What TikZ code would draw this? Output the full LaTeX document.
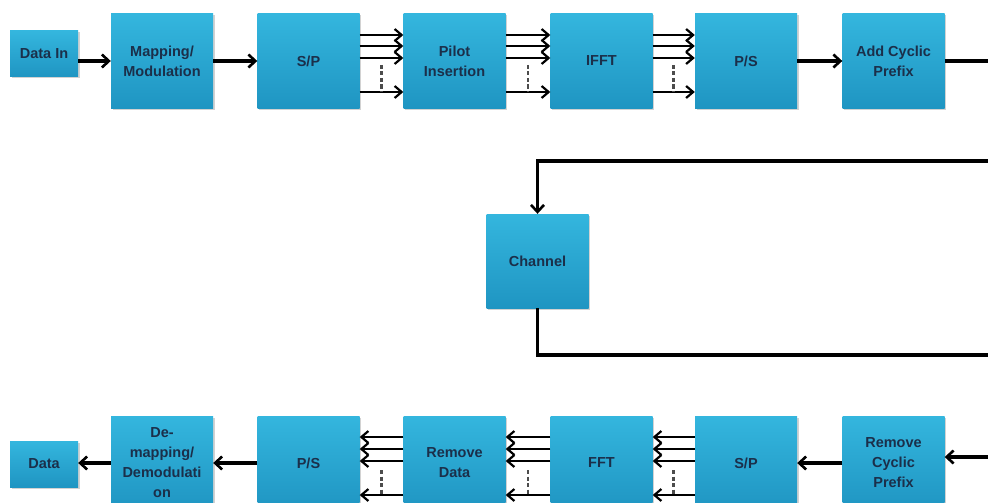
\documentclass[tikz,border=0pt]{standalone}
\usepackage{fontspec}
\setmainfont{Liberation Sans}
\usetikzlibrary{arrows.meta,shadows,calc}
\definecolor{boxtop}{HTML}{34B6DE}
\definecolor{boxbot}{HTML}{1F95C2}
\definecolor{labelc}{HTML}{1B2F4A}
\tikzset{
  blk/.style={rectangle, top color=boxtop, bottom color=boxbot,
    minimum width=102pt, minimum height=94pt, inner sep=2pt,
    align=center, text=labelc, font=\fontsize{14.5}{20}\selectfont\bfseries,
    drop shadow={shadow xshift=1.5pt, shadow yshift=-1.5pt, opacity=.35}},
  small/.style={blk, minimum width=68pt, minimum height=46pt},
  link/.style={line width=3.2pt, -{Straight Barb[length=7pt,width=13pt,line width=2.6pt]}},
  bus/.style={line width=2.8pt, -{Straight Barb[length=7pt,width=12pt,line width=2.2pt]}},
  dots/.style={gray!60!black, line width=2.6pt, dash pattern=on 4pt off 2.5pt}
}
\begin{document}
\begin{tikzpicture}[x=1pt,y=-1pt]
\useasboundingbox (0,0) rectangle (988,503);
\clip (0,0) rectangle (988,503);
\fill[white] (0,0) rectangle (988,503);

% transmitter chain
\node[small] (din)  at (44,54)    {Data In};
\node[blk]   (map)  at (162,61)   {Mapping/\\Modulation};
\node[blk]   (sp1)  at (308.5,61) {S/P};
\node[blk]   (pil)  at (454.5,61) {Pilot\\Insertion};
\node[blk]   (ifft) at (601.5,61) {IFFT};
\node[blk]   (ps1)  at (746,61)   {P/S};
\node[blk]   (acp)  at (893.5,61) {Add Cyclic\\Prefix};

% channel
\node[blk]   (chn)  at (537.5,261) {Channel};

% receiver chain
\node[small] (dout) at (44,464)   {Data};
\node[blk]   (dem)  at (162,463)  {De-\\mapping/\\Demodulati\\on};
\node[blk]   (ps2)  at (308.5,463){P/S};
\node[blk]   (rmd)  at (454.5,463){Remove\\Data};
\node[blk]   (fft)  at (601.5,463){FFT};
\node[blk]   (sp2)  at (746,463)  {S/P};
\node[blk]   (rcp)  at (893.5,463){Remove\\Cyclic\\Prefix};

% single links, transmitter
\draw[link] (din.east |- map.west) -- (map.west);
\draw[link] (map) -- (sp1);
\draw[link] (ps1) -- (acp);

% parallel buses, transmitter
\foreach \a/\b in {sp1/pil, pil/ifft, ifft/ps1}{
  \foreach \s in {26,15,3,-31}
    \draw[bus] ([yshift=\s pt]\a.east) -- ([yshift=\s pt]\b.west);
  \draw[dots] ($([yshift=-4pt]\a.east)!.5!([yshift=-4pt]\b.west)$) --
              ($([yshift=-31pt]\a.east)!.5!([yshift=-31pt]\b.west)$);
}

% route to and from the channel
\coordinate (r1) at (991,61);
\coordinate (r2) at (991,161);
\coordinate (r3) at (chn.north |- 0,161);
\draw[link] (acp.east) -- (r1) -- (r2) -- (r3) -- (chn.north);
\coordinate (q1) at (chn.south |- 0,355);
\coordinate (q2) at (991,355);
\coordinate (q3) at (991,457);
\draw[link] (chn.south) -- (q1) -- (q2) -- (q3) -- ([yshift=6pt]rcp.east);

% single links, receiver
\draw[link] (rcp) -- (sp2);
\draw[link] (ps2) -- (dem);
\draw[link] (dem.west) -- (dout.east |- dem.west);

% parallel buses, receiver
\foreach \a/\b in {sp2/fft, fft/rmd, rmd/ps2}{
  \foreach \s in {26,14,2,-32}
    \draw[bus] ([yshift=\s pt]\a.west) -- ([yshift=\s pt]\b.east);
  \draw[dots] ($([yshift=-7pt]\a.west)!.5!([yshift=-7pt]\b.east)$) --
              ($([yshift=-32pt]\a.west)!.5!([yshift=-32pt]\b.east)$);
}
\end{tikzpicture}
\end{document}
